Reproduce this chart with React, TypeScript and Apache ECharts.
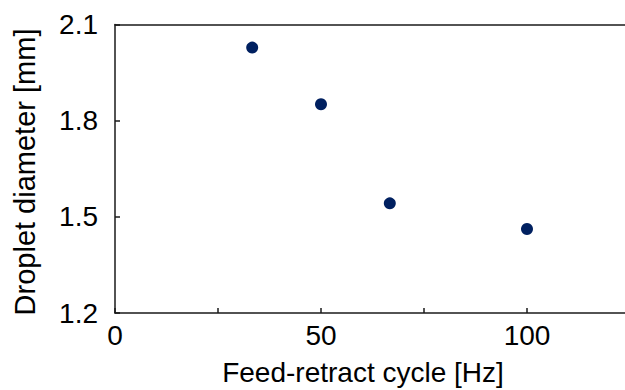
import React, { useEffect, useRef } from "react";
import * as echarts from "echarts";

const frequencyHz = [33.3, 50, 66.7, 100];
const dropletDiameterMm = [2.028, 1.851, 1.542, 1.462];
const xTitle = "Feed-retract cycle [Hz]";
const yTitle = "Droplet diameter [mm]";
const FONT = "'Liberation Sans', Arial, sans-serif";

export default function App() {
  const ref = useRef<HTMLDivElement>(null);
  useEffect(() => {
    if (!ref.current) return;
    const chart = echarts.init(ref.current, undefined, { renderer: "svg" });
    const axisColor = "#1a1a1a";
    chart.setOption({
      animation: false,
      backgroundColor: "#ffffff",
      grid: {
        left: 115,
        top: 24.5,
        height: 288.5,
        width: 515,
        containLabel: false,
        outerBoundsMode: "none",
      },
      xAxis: [
        {
          type: "value",
          min: 0,
          max: 125,
          interval: 25,
          axisLine: { show: true, onZero: false, lineStyle: { color: axisColor, width: 1.5 } },
          axisTick: { show: true, inside: true, length: 5, lineStyle: { color: axisColor, width: 1.5 } },
          splitLine: { show: false },
          axisLabel: {
            margin: 8,
            color: "#000",
            fontFamily: FONT,
            fontSize: 28,
            formatter: (v: number) => (v % 50 === 0 ? String(v) : ""),
          },
        },
        {
          type: "value",
          position: "top",
          min: 0,
          max: 125,
          axisLine: { show: true, lineStyle: { color: axisColor, width: 1.5 } },
          axisTick: { show: false },
          axisLabel: { show: false },
          splitLine: { show: false },
        },
      ],
      yAxis: {
        type: "value",
        min: 1.2,
        max: 2.1,
        interval: 0.3,
        axisLine: { show: true, lineStyle: { color: axisColor, width: 1.5 } },
        axisTick: { show: true, inside: true, length: 5, lineStyle: { color: axisColor, width: 1.5 } },
        splitLine: { show: false },
        axisLabel: {
          margin: 17,
          color: "#000",
          fontFamily: FONT,
          fontSize: 28,
          formatter: (v: number) => v.toFixed(1),
        },
      },
      graphic: [
        {
          type: "text",
          x: 363,
          y: 372,
          style: {
            text: xTitle,
            fill: "#000",
            font: `28px ${FONT}`,
            align: "center",
            verticalAlign: "middle",
          },
        },
        {
          type: "text",
          x: 25,
          y: 172,
          rotation: Math.PI / 2,
          style: {
            text: yTitle,
            fill: "#000",
            font: `29px ${FONT}`,
            align: "center",
            verticalAlign: "middle",
          },
        },
      ],
      series: [
        {
          type: "scatter",
          xAxisIndex: 0,
          symbol: "circle",
          symbolSize: 12,
          itemStyle: { color: "#002060", opacity: 1 },
          data: frequencyHz.map((x, i) => [x, dropletDiameterMm[i]]),
        },
      ],
    });
    return () => chart.dispose();
  }, []);
  return (
    <div
      ref={ref}
      style={{ position: "fixed", left: 0, top: 0, width: 625, height: 390 }}
    />
  );
}
